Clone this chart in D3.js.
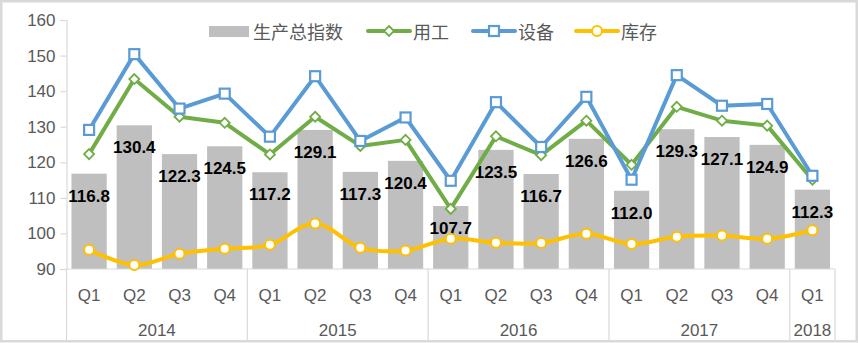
<!DOCTYPE html>
<html><head><meta charset="utf-8">
<script src="https://cdn.jsdelivr.net/npm/d3@7"></script>
<style>
html,body{margin:0;padding:0;background:#fff;}
svg{display:block;}
</style></head>
<body>
<svg id="chart" width="859" height="343"></svg>
<script>
const quarters = ["Q1","Q2","Q3","Q4","Q1","Q2","Q3","Q4","Q1","Q2","Q3","Q4","Q1","Q2","Q3","Q4","Q1"];
const years = [{label:"2014",n:4},{label:"2015",n:4},{label:"2016",n:4},{label:"2017",n:4},{label:"2018",n:1}];
const production = [116.8,130.4,122.3,124.5,117.2,129.1,117.3,120.4,107.7,123.5,116.7,126.6,112.0,129.3,127.1,124.9,112.3];
const labor = [122.3,143.4,132.8,131.1,122.2,132.8,124.6,126.3,106.9,127.3,122.0,131.7,119.3,135.6,131.7,130.3,115.1];
const equipment = [129.1,150.4,135.1,139.3,127.2,144.2,126.0,132.6,114.8,136.9,124.3,138.4,115.1,144.5,135.9,136.4,116.2];
const inventory = [95.4,91.1,94.3,95.7,96.8,102.8,96.0,95.2,98.5,97.4,97.3,99.9,97.0,99.1,99.4,98.5,100.9];
const yTicks = [90,100,110,120,130,140,150,160];
const legendNames = ["生产总指数","用工","设备","库存"];

const svg = d3.select("#chart");
const font = "'Liberation Sans', Arial, sans-serif";
const cjk = "'Noto Sans CJK SC', sans-serif";
const gray = "#595959";
const axisCol = "#D9D9D9";

// border
svg.append("rect").attr("x",1.25).attr("y",1.25).attr("width",855.5).attr("height",340)
  .attr("fill","#fff").attr("stroke","#D9D9D9").attr("stroke-width",2.5);

const x = d3.scaleBand().domain(d3.range(quarters.length)).range([66.5,835]).paddingInner(0.22).paddingOuter(0.11);
const y = d3.scaleLinear().domain([90,160]).range([269,20]);
const step = x.step();
const left = 66.5;
const cx = i => x(i) + x.bandwidth()/2;

// y axis
const yAxis = svg.append("g").attr("transform",`translate(${left},0)`)
  .call(d3.axisLeft(y).tickValues(yTicks).tickSize(6).tickPadding(5).tickFormat(d3.format("d")));
yAxis.select(".domain").attr("stroke",axisCol).attr("stroke-width",1.2);
yAxis.selectAll(".tick line").attr("stroke",axisCol).attr("stroke-width",1.2);
yAxis.selectAll(".tick text").attr("fill",gray).style("font-family",font).style("font-size","17px");

// bars
svg.append("g").selectAll("rect").data(production).join("rect")
  .attr("x",(d,i)=>x(i)).attr("width",x.bandwidth())
  .attr("y",d=>y(d)).attr("height",d=>y(90)-y(d)).attr("fill","#BFBFBF");

// x axis line
svg.append("line").attr("x1",left).attr("x2",835).attr("y1",y(90)).attr("y2",y(90))
  .attr("stroke",axisCol).attr("stroke-width",1.2);

// year separators & labels
let start = 0;
const seps = [0];
years.forEach(yr=>{ start += yr.n; seps.push(start); });
svg.append("g").selectAll("line").data(seps).join("line")
  .attr("x1",d=>left + d*step).attr("x2",d=>left + d*step)
  .attr("y1",y(90)).attr("y2",341).attr("stroke",axisCol).attr("stroke-width",1.2);
let acc = 0;
years.forEach(yr=>{
  const mid = left + (acc + yr.n/2)*step;
  svg.append("text").attr("x",mid).attr("y",336).attr("text-anchor","middle")
    .attr("fill",gray).style("font-family",font).style("font-size","17px").text(yr.label);
  acc += yr.n;
});
svg.append("g").selectAll("text").data(quarters).join("text")
  .attr("x",(d,i)=>cx(i)).attr("y",301).attr("text-anchor","middle")
  .attr("fill",gray).style("font-family",font).style("font-size","17px").text(d=>d);

// bar labels
svg.append("g").selectAll("text").data(production).join("text")
  .attr("x",(d,i)=>cx(i)).attr("y",d=>y(d)+28).attr("text-anchor","middle")
  .attr("fill","#000").style("font-family",font).style("font-weight","bold").style("font-size","17px")
  .text(d=>d.toFixed(1));

// lines
const lineStraight = d3.line().x((d,i)=>cx(i)).y(d=>y(d));
const lineSmooth = d3.line().x((d,i)=>cx(i)).y(d=>y(d)).curve(d3.curveCatmullRom.alpha(0));

function drawSeries(data, color, gen){
  svg.append("path").datum(data).attr("d",gen).attr("fill","none")
    .attr("stroke",color).attr("stroke-width",4).attr("stroke-linejoin","round").attr("stroke-linecap","round");
}
drawSeries(labor,"#70AD47",lineStraight);
drawSeries(equipment,"#5B9BD5",lineStraight);
drawSeries(inventory,"#FFC000",lineSmooth);

function diamond(g,px,py){
  g.append("path").attr("d",`M${px},${py-5}L${px+5},${py}L${px},${py+5}L${px-5},${py}Z`)
    .attr("fill","#fff").attr("stroke","#70AD47").attr("stroke-width",1.8);
}
function square(g,px,py){
  g.append("rect").attr("x",px-5).attr("y",py-5).attr("width",10).attr("height",10)
    .attr("fill","#fff").attr("stroke","#5B9BD5").attr("stroke-width",2.2);
}
function circle(g,px,py){
  g.append("circle").attr("cx",px).attr("cy",py).attr("r",5)
    .attr("fill","#fff").attr("stroke","#FFC000").attr("stroke-width",2);
}
const mg = svg.append("g");
labor.forEach((d,i)=>diamond(mg,cx(i),y(d)));
equipment.forEach((d,i)=>square(mg,cx(i),y(d)));
inventory.forEach((d,i)=>circle(mg,cx(i),y(d)));

// legend
const lg = svg.append("g");
const ly = 31;
lg.append("rect").attr("x",209).attr("y",26).attr("width",40).attr("height",11).attr("fill","#BFBFBF");
const lt = (xx,t)=>lg.append("text").attr("x",xx).attr("y",ly).attr("dominant-baseline","central")
  .attr("fill",gray).style("font-family",cjk).style("font-size","18px").text(t);
lt(253,legendNames[0]);
const ll = (x1,x2,col)=>lg.append("line").attr("x1",x1).attr("x2",x2).attr("y1",ly).attr("y2",ly)
  .attr("stroke",col).attr("stroke-width",4).attr("stroke-linecap","round");
ll(368,410,"#70AD47"); diamond(lg,389,ly); lt(413,legendNames[1]);
ll(473,515,"#5B9BD5"); square(lg,494,ly); lt(518,legendNames[2]);
ll(576,618,"#FFC000"); circle(lg,597,ly); lt(621,legendNames[3]);
</script>
</body></html>
